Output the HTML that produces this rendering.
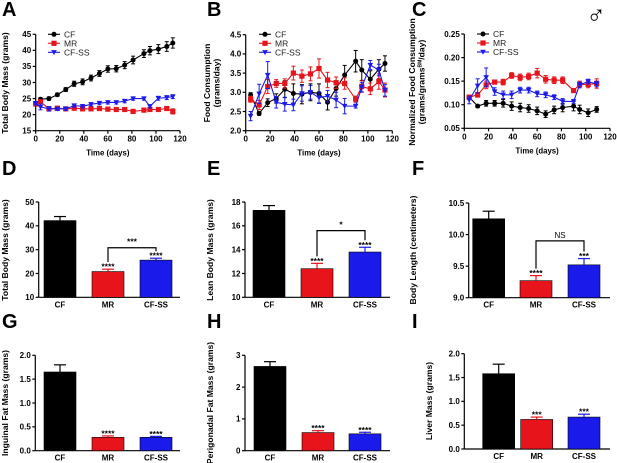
<!DOCTYPE html>
<html><head><meta charset="utf-8"><style>
body{margin:0;background:#fff}
svg{display:block;font-family:"Liberation Sans",Arial,sans-serif}
</style></head><body>
<svg id="fig" width="617" height="463" viewBox="0 0 617 463" xmlns="http://www.w3.org/2000/svg"></svg>
<script>
// ---------- DATA ----------
const daysA=[0,4,11,18,25,32,39,46,53,60,67,74,81,90,95,102,109,114];
const aCF=[23.5,24.8,25,26.2,27.8,29.6,30.2,31.4,32.8,34.2,34.3,35.4,37,39,39.9,40.4,41.2,42.3];
const aCFerr=[0.5,0.5,0.5,0.5,0.6,0.8,0.9,0.9,0.9,1,1,1.1,1.2,1.2,1.3,1.4,1.5,1.6];
const aMR=[23.3,24,21.8,22,21.8,22,21.8,21.8,21.9,21.7,21.6,21.6,21,21.4,21.6,21.6,21.9,21];
const aMRerr=[0.6,0.6,0.5,0.5,0.5,0.5,0.5,0.5,0.5,0.5,0.5,0.5,0.5,0.5,0.5,0.5,0.5,0.8];
const aSS=[23.5,22.4,21.8,21.8,21.8,22.8,22.6,23.2,23.6,23.8,23.8,24.2,25,25,22.6,25.1,25.3,25.6];
const aSSerr=[0.5,0.9,0.7,0.5,0.5,0.5,0.5,0.5,0.5,0.5,0.5,0.5,0.5,0.5,0.5,0.6,0.6,0.6];

const daysB=[4,11,18,25,32,39,46,53,60,67,74,81,90,95,102,109,114];
const bCF=[2.93,2.45,2.73,2.84,3.08,2.97,2.95,3.0,2.97,2.74,3.1,3.45,3.81,3.58,3.34,3.6,3.75];
const bCFerr=[0.06,0.05,0.1,0.12,0.22,0.25,0.25,0.22,0.25,0.2,0.2,0.25,0.28,0.27,0.22,0.25,0.2];
const bMR=[2.82,2.67,3.15,3.23,3.23,3.5,3.42,3.48,3.62,3.32,3.25,3.23,2.82,3.15,3.09,3.28,3.06];
const bMRerr=[0.08,0.12,0.18,0.1,0.12,0.18,0.16,0.18,0.25,0.2,0.15,0.15,0.08,0.15,0.15,0.2,0.18];
const bSS=[2.38,2.96,3.45,2.74,2.69,2.67,2.97,3.0,2.86,2.9,2.8,2.64,2.64,3.13,3.71,3.58,3.05];
const bSSerr=[0.12,0.25,0.35,0.15,0.18,0.15,0.2,0.18,0.15,0.15,0.2,0.2,0.05,0.12,0.12,0.15,0.15];

const daysC=[4,11,18,25,32,39,46,53,60,67,74,81,90,95,102,109];
const cCF=[0.116,0.097,0.103,0.103,0.103,0.097,0.094,0.092,0.087,0.080,0.089,0.094,0.097,0.090,0.083,0.090];
const cCFerr=[0.003,0.003,0.006,0.006,0.008,0.009,0.009,0.008,0.008,0.007,0.008,0.009,0.01,0.009,0.008,0.006];
const cMR=[0.116,0.121,0.142,0.148,0.148,0.162,0.158,0.16,0.167,0.154,0.152,0.152,0.13,0.143,0.143,0.145];
const cMRerr=[0.004,0.005,0.008,0.004,0.006,0.006,0.007,0.007,0.01,0.008,0.007,0.007,0.004,0.007,0.007,0.01];
const cSS=[0.11,0.14,0.158,0.128,0.121,0.121,0.131,0.131,0.123,0.121,0.116,0.107,0.107,0.142,0.149,0.144];
const cSSerr=[0.008,0.015,0.02,0.008,0.008,0.008,0.006,0.006,0.006,0.006,0.005,0.006,0.004,0.006,0.005,0.006];

const groups=["CF","MR","CF-SS"];
const dVals=[42.2,20.8,25.6], dErr=[1.7,1.0,0.8], dStars=["","****","****"];
const eVals=[17.3,12.4,13.8], eErr=[0.4,0.45,0.4], eStars=["","****","****"];
const fVals=[10.25,9.27,9.52], fErr=[0.12,0.08,0.1], fStars=["","****","***"];
const gVals=[1.65,0.28,0.28], gErr=[0.15,0.03,0.02], gStars=["","****","****"];
const hVals=[2.65,0.57,0.53], hErr=[0.15,0.06,0.05], hStars=["","****","****"];
const iVals=[1.58,0.62,0.67], iErr=[0.2,0.05,0.06], iStars=["","***","***"];

// ---------- HELPERS ----------
const NS="http://www.w3.org/2000/svg";
const svg=document.getElementById('fig');
function el(tag,attrs,parent){const e=document.createElementNS(NS,tag);for(const k in attrs)e.setAttribute(k,attrs[k]);(parent||svg).appendChild(e);return e;}
function txt(s,attrs,parent){const t=el('text',attrs,parent);t.textContent=s;return t;}
const COLORS={CF:"#000",MR:"#e8141b","CF-SS":"#1a1aeb"};

function panelLetter(s,x,y){const t=txt(s,{x:x,y:y,'font-size':20,'font-weight':'bold',fill:'#000'});

}

function yTitle(lines,x,cy,g){lines.forEach((l,i)=>{const t=txt('',{x:0,y:0,'font-size':8.6,'font-weight':'bold','text-anchor':'middle',transform:`translate(${x+i*9.5},${cy}) rotate(-90)`},g);
t.innerHTML=l;

});}

function yAxis(g,ax,sy,ticks,top,bot,fmt){
 const a=el('line',{x1:ax,y1:top,x2:ax,y2:bot,stroke:'#000','stroke-width':1.2},g);
 
 
 ticks.forEach(v=>{const y=sy(v);el('line',{x1:ax-3,y1:y,x2:ax,y2:y,stroke:'#000','stroke-width':1.2},g);
  const t=txt(fmt(v),{x:ax-4.5,y:y+2.8,'font-size':8,'font-weight':'bold','text-anchor':'end'},g);
  
  });
}

function linePanel(o){
 const g=el('g',{});
 
 
 const sx=v=>o.x0+(v-0)/(120)*(o.x1-o.x0);
 const sy=v=>o.yb-(v-o.ymin)/(o.ymax-o.ymin)*(o.yb-o.yt);
 yAxis(g,o.x0,sy,o.yticks,o.yt,o.yb,o.fmt);
 const xa=el('line',{x1:o.x0,y1:o.yb,x2:o.x1,y2:o.yb,stroke:'#000','stroke-width':1.2},g);
 
 
 [0,20,40,60,80,100,120].forEach(v=>{const x=sx(v);el('line',{x1:x,y1:o.yb,x2:x,y2:o.yb+3,stroke:'#000','stroke-width':1.2},g);
  const t=txt(String(v),{x:x,y:o.yb+11,'font-size':8,'font-weight':'bold','text-anchor':'middle'},g);
  
  });
 const xt=txt('Time (days)',{x:(o.x0+o.x1)/2,y:o.yb+25,'font-size':7.8,'font-weight':'bold','text-anchor':'middle'},g);
 
 
 o.series.forEach((s,si)=>{
  const c=COLORS[s.key];
  const sg=el('g',{},g);
  
  
  let d='';s.vals.forEach((v,i)=>{d+=(i?'L':'M')+sx(o.days[i])+','+sy(v);});
  el('path',{d:d,fill:'none',stroke:c,'stroke-width':1.1},sg);
  s.vals.forEach((v,i)=>{const x=sx(o.days[i]);const e=s.err[i];
   el('line',{x1:x,y1:sy(v-e),x2:x,y2:sy(v+e),stroke:c,'stroke-width':1},sg);
   el('line',{x1:x-2,y1:sy(v+e),x2:x+2,y2:sy(v+e),stroke:c,'stroke-width':1},sg);
   el('line',{x1:x-2,y1:sy(v-e),x2:x+2,y2:sy(v-e),stroke:c,'stroke-width':1},sg);
   marker(s.key,x,sy(v),sg);});
 });
 groups.forEach((k,i)=>{const y=o.ly+i*9;const lg=el('g',{},g);
  
  
  el('line',{x1:o.lx,y1:y,x2:o.lx+12,y2:y,stroke:COLORS[k],'stroke-width':1.1},lg);
  marker(k,o.lx+6,y,lg);
  txt(k,{x:o.lx+16,y:y+3,'font-size':8.5,fill:'#222'},lg);});
}
function marker(k,x,y,g){
 const c=COLORS[k];
 if(k==='CF')el('circle',{cx:x,cy:y,r:2.5,fill:c},g);
 else if(k==='MR')el('rect',{x:x-2.6,y:y-2.6,width:5.2,height:5.2,fill:c},g);
 else el('path',{d:`M${x-2.8},${y-2.2}L${x+2.8},${y-2.2}L${x},${y+2.8}Z`,fill:c},g);
}

function barPanel(o){
 const g=el('g',{});
 
 
 const sy=v=>o.yb-(v-o.ymin)/(o.ymax-o.ymin)*(o.yb-o.yt);
 yAxis(g,o.ax,sy,o.yticks,o.yt,o.yb,o.fmt);
 const xa=el('line',{x1:o.ax,y1:o.yb,x2:o.xend,y2:o.yb,stroke:'#000','stroke-width':1.2},g);
 
 
 const tops=[];
 o.vals.forEach((v,i)=>{const k=groups[i];const c=COLORS[k];const x=o.bx[i],w=32;const cx=x+w/2;
  const r=el('rect',{x:x,y:sy(v),width:w,height:o.yb-sy(v),fill:c,stroke:'#000','stroke-width':0.6},g);
  
  
  const et=sy(v+o.err[i]);
  el('line',{x1:cx,y1:sy(v),x2:cx,y2:et,stroke:c,'stroke-width':1.2},g);
  el('line',{x1:cx-6,y1:et,x2:cx+6,y2:et,stroke:c,'stroke-width':1.2},g);
  if(o.stars[i]){const t=txt(o.stars[i],{x:cx,y:et+0.5,'font-size':8.5,'font-weight':'bold','text-anchor':'middle'},g);
   
   }
  tops.push(et-7);
  const lt=txt(k,{x:cx,y:o.yb+10,'font-size':8,'font-weight':'bold','text-anchor':'middle'},g);
  
  });
 if(o.br){const by=sy(o.br.v);const x1=o.bx[1]+16,x2=o.bx[2]+16;
  const b=el('path',{d:`M${x1},${tops[1]}L${x1},${by}L${x2},${by}L${x2},${tops[2]}`,fill:'none',stroke:'#000','stroke-width':1.2},g);
  
  
  const t=txt(o.br.label,{x:(x1+x2)/2,y:by-3,'font-size':o.br.label==='NS'?8:8.5,'text-anchor':'middle','font-weight':o.br.label==='NS'?'normal':'bold'},g);
  
  }
}

// ---------- BUILD ----------
const f0=v=>String(v), f1=v=>v.toFixed(1), f2=v=>v.toFixed(2);
panelLetter('A',2,16);panelLetter('B',207,16);panelLetter('C',412,16);
panelLetter('D',2,175);panelLetter('E',207,175);panelLetter('F',412,175);
panelLetter('G',2,328);panelLetter('H',207,328);panelLetter('I',412,328);
const sym=txt('♂',{x:596,y:24,'font-size':26,'text-anchor':'middle',fill:'#000'});



linePanel({name:'chart-a-body-mass',x0:35.7,x1:180,yt:34.3,yb:130.7,ymin:15,ymax:45,yticks:[15,20,25,30,35,40,45],fmt:f0,days:daysA,lx:48,ly:34.3,
 series:[{key:'CF',vals:aCF,err:aCFerr},{key:'MR',vals:aMR,err:aMRerr},{key:'CF-SS',vals:aSS,err:aSSerr}]});
yTitle(['Total Body Mass (grams)'],8,83);
linePanel({name:'chart-b-food-consumption',x0:245.7,x1:392.3,yt:34.7,yb:130.7,ymin:2,ymax:4.5,yticks:[2,2.5,3,3.5,4,4.5],fmt:f1,days:daysB,lx:259,ly:34.3,
 series:[{key:'CF',vals:bCF,err:bCFerr},{key:'MR',vals:bMR,err:bMRerr},{key:'CF-SS',vals:bSS,err:bSSerr}]});
yTitle(['Food Consumption','(grams/day)'],210,83);
linePanel({name:'chart-c-normalized-food',x0:464.3,x1:610,yt:34,yb:128.3,ymin:0.05,ymax:0.25,yticks:[0.05,0.1,0.15,0.2,0.25],fmt:f2,days:daysC,lx:477,ly:34,
 series:[{key:'CF',vals:cCF,err:cCFerr},{key:'MR',vals:cMR,err:cMRerr},{key:'CF-SS',vals:cSS,err:cSSerr}]});
yTitle(['Normalized Food Consumption','(grams/grams<tspan baseline-shift="super" font-size="5">BM</tspan>/day)'],415,82);

barPanel({name:'chart-d-total-body-mass',ax:38.7,xend:180,yt:202,yb:297.3,ymin:10,ymax:50,yticks:[10,20,30,40,50],fmt:f0,bx:[44,92,140],vals:dVals,err:dErr,stars:dStars,br:{v:30.8,label:'***'}});
yTitle(['Total Body Mass (grams)'],8,250);
barPanel({name:'chart-e-lean-body-mass',ax:245,xend:390,yt:202,yb:297.3,ymin:10,ymax:18,yticks:[10,12,14,16,18],fmt:f0,bx:[253,301,349],vals:eVals,err:eErr,stars:eStars,br:{v:15.6,label:'*'}});
yTitle(['Lean Body Mass (grams)'],213,250);
barPanel({name:'chart-f-body-length',ax:468.7,xend:610,yt:203,yb:297.7,ymin:9,ymax:10.5,yticks:[9,9.5,10,10.5],fmt:f1,bx:[472.7,520,568],vals:fVals,err:fErr,stars:fStars,br:{v:9.9,label:'NS'}});
yTitle(['Body Length (centimeters)'],416,250);

barPanel({name:'chart-g-inguinal-fat',ax:35.3,xend:180,yt:355.3,yb:450.7,ymin:0,ymax:2,yticks:[0,0.5,1,1.5,2],fmt:f1,bx:[44,92,140],vals:gVals,err:gErr,stars:gStars});
yTitle(['Inguinal Fat Mass (grams)'],8,403);
barPanel({name:'chart-h-perigonadal-fat',ax:245,xend:390,yt:355.3,yb:450.7,ymin:0,ymax:3,yticks:[0,1,2,3],fmt:f0,bx:[254,302,349],vals:hVals,err:hErr,stars:hStars});
yTitle(['Perigonadal Fat Mass (grams)'],213,403);
barPanel({name:'chart-i-liver-mass',ax:464.3,xend:610,yt:353.7,yb:449,ymin:0,ymax:2,yticks:[0,0.5,1,1.5,2],fmt:f1,bx:[482.7,520.7,568],vals:iVals,err:iErr,stars:iStars});
yTitle(['Liver Mass (grams)'],432,401);
</script>
</body></html>
